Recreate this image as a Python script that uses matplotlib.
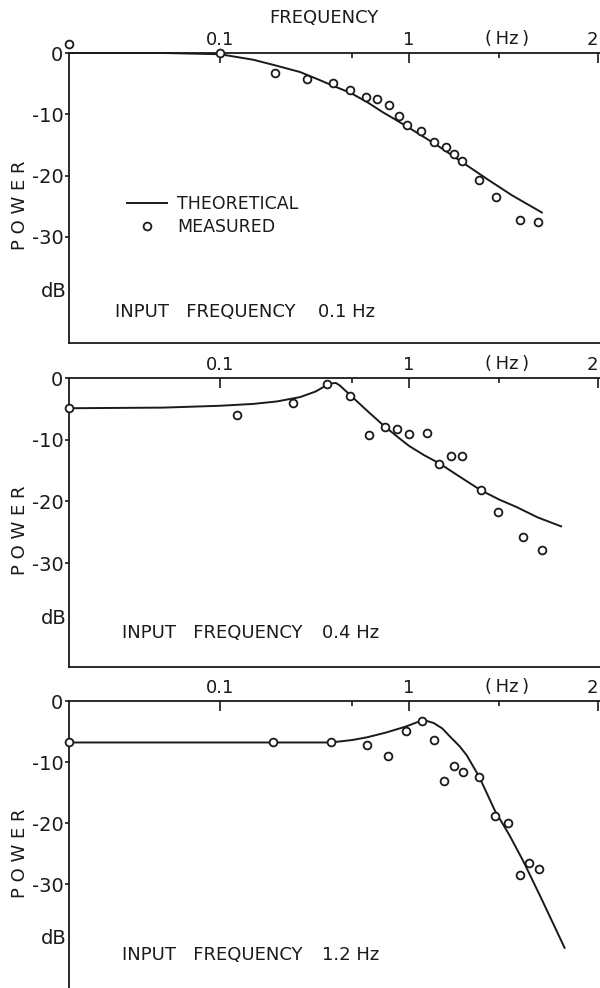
import matplotlib
matplotlib.use("Agg")
import matplotlib.pyplot as plt
from matplotlib.lines import Line2D

plt.rcParams["font.family"] = ["DejaVu Sans"]

W, H = 600, 988
INK = "#1a1a1a"

# ---- response data (frequency in Hz, power in dB) ----
f_edge = 10 ** -1.799

theory_f_01 = [f_edge, 0.05, 0.1, 0.15, 0.195, 0.265, 0.33, 0.4, 0.49, 0.6, 0.73, 0.82,
               1.0, 1.4, 1.93, 2.6, 3.5, 5.1]
theory_db_01 = [0.0, 0.0, -0.2, -1.1, -2.0, -3.1, -4.3, -5.4, -6.5, -8.0, -9.7, -10.6,
                -12.2, -15.0, -17.9, -20.6, -23.2, -26.1]
meas_f_01 = [f_edge, 0.1, 0.195, 0.289, 0.396, 0.49, 0.59, 0.68, 0.78, 0.885, 0.976,
             1.16, 1.36, 1.57, 1.73, 1.91, 2.34, 2.89, 3.87, 4.82]
meas_db_01 = [1.4, 0.0, -3.2, -4.2, -4.9, -6.1, -7.1, -7.5, -8.5, -10.2, -11.7,
              -12.7, -14.5, -15.3, -16.5, -17.6, -20.7, -23.5, -27.2, -27.6]

theory_f_04 = [f_edge, 0.05, 0.1, 0.15, 0.2, 0.265, 0.32, 0.36, 0.385, 0.41, 0.43, 0.49,
               0.6, 0.746, 0.9, 1.0, 1.2, 1.44, 1.9, 2.4, 3.0, 3.7, 4.8, 6.45]
theory_db_04 = [-4.9, -4.8, -4.5, -4.2, -3.8, -3.1, -2.2, -1.3, -0.9, -0.8, -1.2, -2.8,
                -5.3, -7.9, -9.9, -11.0, -12.5, -13.8, -16.2, -18.2, -19.7, -20.9, -22.6, -24.1]
meas_f_04 = [f_edge, 0.123, 0.243, 0.368, 0.49, 0.614, 0.746, 0.861, 0.996, 1.245,
             1.445, 1.67, 1.91, 2.40, 2.96, 4.0, 5.07]
meas_db_04 = [-4.9, -6.0, -4.1, -1.0, -2.9, -9.2, -7.9, -8.2, -9.1, -8.9,
              -13.9, -12.6, -12.6, -18.2, -21.7, -25.8, -27.8]

theory_f_12 = [f_edge, 0.1, 0.2, 0.385, 0.5, 0.6, 0.75, 0.96, 1.1, 1.22, 1.35, 1.5,
               1.65, 1.85, 2.02, 2.35, 2.85, 3.4, 4.03, 5.0, 6.69]
theory_db_12 = [-6.8, -6.8, -6.8, -6.8, -6.4, -5.95, -5.2, -4.2, -3.5, -3.2, -3.6, -4.5,
                -5.85, -7.4, -8.9, -12.4, -18.0, -22.0, -26.3, -32.3, -40.6]
meas_f_12 = [f_edge, 0.19, 0.385, 0.597, 0.771, 0.964, 1.17, 1.35, 1.54, 1.72, 1.92,
             2.35, 2.85, 3.36, 3.87, 4.33, 4.87]
meas_db_12 = [-6.7, -6.7, -6.8, -7.2, -9.0, -4.9, -3.2, -6.4, -13.1, -10.6, -11.6,
              -12.4, -18.8, -20.0, -28.5, -26.5, -27.5]

input_labels = ["0.1 Hz", "0.4 Hz", "1.2 Hz"]
x_ticks = [0.1, 1, 10]
x_tick_labels = ["0.1", "1", "2"]
x_minor = [0.5, 3]
y_ticks = [0, -10, -20, -30]
y_tick_labels = ["0", "-10", "-20", "-30"]

series = [
    (theory_f_01, theory_db_01, meas_f_01, meas_db_01),
    (theory_f_04, theory_db_04, meas_f_04, meas_db_04),
    (theory_f_12, theory_db_12, meas_f_12, meas_db_12),
]

# panel frames in pixels: (top, bottom, px per dB, caption row y, caption x, value x)
frames = [(53, 343, 6.13, 312, 115, 318),
          (378, 667, 6.17, 633, 122, 322),
          (701, 990, 6.10, 955, 122, 322)]

X_LEFT, X_RIGHT = 69, 620
XLIM = (10 ** -1.799, 10 ** 1.1164)

fig = plt.figure(figsize=(W / 100, H / 100), dpi=100)

axes = []
for (tf, tdb, mf, mdb), (top, bot, ppd, ly, ix, vx), lab in zip(series, frames, input_labels):
    ax = fig.add_axes([X_LEFT / W, 1 - bot / H, (X_RIGHT - X_LEFT) / W, (bot - top) / H])
    ax.set_xscale("log")
    ax.set_xlim(*XLIM)
    ax.set_ylim(-(bot - top) / ppd, 0)

    ax.plot(tf, tdb, color=INK, lw=1.4, solid_capstyle="butt", clip_on=False, zorder=3)
    ax.plot(mf, mdb, linestyle="none", marker="o", ms=5.6, mfc="white", mec=INK,
            mew=1.3, clip_on=False, zorder=4)

    for side in ("left", "top", "bottom"):
        ax.spines[side].set_linewidth(1.3)
        ax.spines[side].set_color(INK)
    ax.spines["right"].set_visible(False)

    ax.xaxis.tick_top()
    ax.set_xticks(x_ticks)
    ax.set_xticklabels(x_tick_labels)
    ax.set_xticks(x_minor, minor=True)
    ax.xaxis.set_minor_formatter(plt.NullFormatter())
    ax.tick_params(axis="x", which="major", direction="in", length=7.5, width=1.2,
                   pad=3, labelsize=13, colors=INK)
    ax.tick_params(axis="x", which="minor", direction="in", length=3.8, width=1.2,
                   colors=INK)
    # last top label sits against the right edge
    ax.get_xticklabels()[-1].set_horizontalalignment("right")

    ax.set_yticks(y_ticks)
    ax.set_yticklabels(y_tick_labels)
    ax.tick_params(axis="y", which="major", direction="out", length=3, width=1.2,
                   pad=1, labelsize=14, colors=INK)
    ax.yaxis.set_minor_locator(plt.NullLocator())

    ax.text(-0.004, -38.9, "dB", transform=ax.get_yaxis_transform(), ha="right",
            va="center", fontsize=14, color=INK)
    ax.annotate("(\u2009Hz\u2009)", xy=(3.3, 1), xycoords=("data", "axes fraction"),
                xytext=(0, 3.5), textcoords="offset points", ha="center",
                va="bottom", fontsize=13, color=INK)

    fig.text(20 / W, 1 - (top + 152) / H, "P O W E R", rotation=90, ha="center",
             va="center", fontsize=13, color=INK)
    fig.text(ix / W, 1 - ly / H, "INPUT   FREQUENCY", ha="left", va="center",
             fontsize=13, color=INK)
    fig.text(vx / W, 1 - ly / H, lab, ha="left", va="center", fontsize=13, color=INK)
    axes.append(ax)

fig.text(324 / W, 1 - 18 / H, "FREQUENCY", ha="center", va="center", fontsize=13,
         color=INK)

handles = [Line2D([], [], color=INK, lw=1.4),
           Line2D([], [], linestyle="none", marker="o", ms=5.6, mfc="white",
                  mec=INK, mew=1.3)]
axes[0].legend(handles, ["THEORETICAL", "MEASURED"], loc="upper left",
               bbox_to_anchor=(127 / W, 1 - 195 / H), bbox_transform=fig.transFigure,
               frameon=False, fontsize=12.5, handlelength=2.3, handletextpad=0.6,
               labelspacing=0.3, borderpad=0, borderaxespad=0, labelcolor=INK)

fig.savefig("out.png", dpi=100)
